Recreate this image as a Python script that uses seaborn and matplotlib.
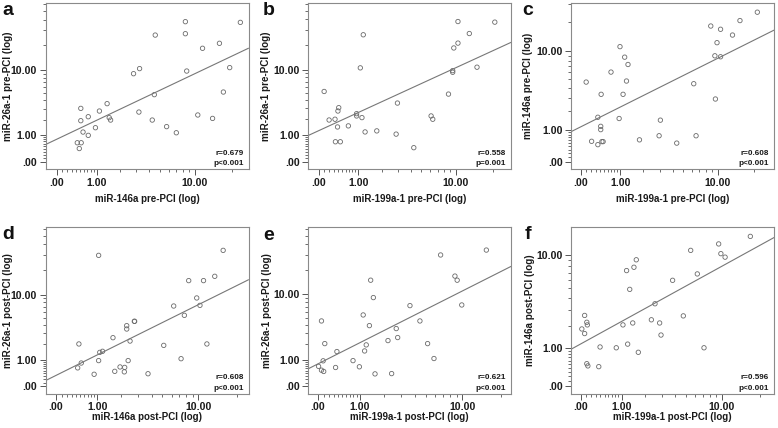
import numpy as np
import matplotlib
matplotlib.use('Agg')
import matplotlib.pyplot as plt
import seaborn as sns
from matplotlib.ticker import FixedLocator, FixedFormatter

# values (fold change, plotted on a "safe log" axis)
a_x = [0.43, 0.53, 0.48, 0.52, 0.52, 0.58, 0.73, 0.73, 0.96, 1.10, 1.40, 1.49, 1.55, 2.80, 3.22, 3.17,
       4.26, 4.45, 4.54, 5.75, 6.99, 8.35, 8.35, 8.57, 10.6, 11.6, 14.0, 15.9, 17.1, 19.2, 23.3]
a_y = [0.64, 0.64, 0.41, 3.03, 1.92, 1.17, 2.24, 0.99, 1.43, 2.76, 3.56, 2.16, 1.97, 8.98, 10.4, 2.66,
       1.97, 4.77, 26.4, 1.50, 1.13, 37.9, 27.4, 9.7, 2.39, 18.4, 2.10, 21.1, 5.18, 10.7, 37.2]

b_x = [0.10, 0.20, 0.33, 0.34, 0.39, 0.40, 0.42, 0.46, 0.68, 0.94, 0.94, 1.07, 1.13, 1.18, 1.25, 1.76,
       2.87, 2.96, 4.27, 6.13, 6.34, 8.66, 9.4, 9.4, 9.6, 10.4, 10.4, 12.9, 14.9, 20.7]
b_y = [5.22, 1.96, 2.02, 0.68, 1.47, 2.74, 3.08, 0.68, 1.54, 2.29, 2.49, 10.5, 2.15, 26.2, 1.17, 1.23,
       1.05, 3.60, 0.44, 2.29, 2.02, 4.81, 9.26, 9.7, 18.3, 20.9, 37.4, 27.1, 10.7, 36.8]

c_x = [0.10, 0.21, 0.35, 0.35, 0.42, 0.42, 0.43, 0.45, 0.48, 0.70, 0.96, 0.99, 1.10, 1.16, 1.23, 1.29,
       1.80, 2.95, 3.04, 4.38, 6.25, 6.55, 8.77, 9.5, 9.6, 9.9, 10.6, 10.6, 13.3, 15.3, 21.1]
c_y = [4.65, 0.56, 1.63, 0.45, 1.16, 1.01, 3.33, 0.55, 0.55, 6.02, 1.56, 11.2, 3.33, 8.71, 4.78, 7.28,
       0.61, 0.76, 1.47, 0.50, 4.45, 0.76, 18.1, 9.0, 2.91, 12.3, 16.8, 8.79, 14.7, 20.5, 24.8]

d_x = [0.44, 0.47, 0.53, 0.90, 1.05, 1.09, 1.19, 1.61, 1.69, 1.94, 2.16, 2.18, 2.29, 2.29, 2.37, 2.48,
       2.74, 2.76, 3.71, 5.14, 6.26, 7.22, 7.69, 8.35, 9.7, 10.3, 11.0, 11.7, 13.5, 15.7, 1.05]
d_y = [0.62, 2.03, 0.84, 0.37, 0.96, 1.43, 1.50, 2.57, 0.48, 0.66, 0.46, 0.64, 3.89, 3.48, 0.96, 2.27,
       4.48, 4.48, 0.39, 1.92, 7.18, 1.06, 5.41, 14.9, 9.1, 7.32, 14.9, 2.03, 16.8, 34.1, 29.8]

e_x = [0.01, 0.06, 0.06, 0.09, 0.10, 0.12, 0.34, 0.37, 0.79, 0.99, 1.12, 1.17, 1.23, 1.35, 1.40, 1.51,
       1.58, 2.20, 2.40, 2.67, 2.76, 3.61, 4.44, 5.18, 5.87, 6.67, 8.73, 9.1, 9.9, 15.4]
e_y = [0.68, 0.52, 4.49, 0.94, 0.47, 2.04, 0.63, 1.47, 0.95, 0.66, 5.42, 1.51, 1.94, 3.86, 14.9, 9.1,
       0.38, 2.29, 0.39, 3.50, 2.56, 7.19, 4.49, 2.04, 1.06, 29.7, 16.7, 14.9, 7.33, 33.9]

f_x = [0.02, 0.07, 0.07, 0.11, 0.12, 0.11, 0.13, 0.36, 0.39, 0.83, 1.05, 1.18, 1.22, 1.30, 1.42, 1.47,
       1.57, 1.66, 2.32, 2.53, 2.82, 2.91, 3.76, 4.71, 5.47, 6.24, 7.11, 9.4, 9.8, 10.6, 16.8]
f_y = [1.85, 2.65, 1.62, 2.22, 2.07, 0.51, 0.45, 0.43, 1.05, 1.02, 2.07, 7.29, 1.16, 4.88, 2.18, 7.81,
       9.1, 0.86, 2.37, 3.52, 2.18, 1.55, 5.94, 2.62, 11.0, 6.80, 1.02, 12.5, 10.3, 9.6, 14.5]

letters = ['a', 'b', 'c', 'd', 'e', 'f']
x_labels = ['miR-146a pre-PCI (log)', 'miR-199a-1 pre-PCI (log)', 'miR-199a-1 pre-PCI (log)',
            'miR-146a post-PCI (log)', 'miR-199a-1 post-PCI (log)', 'miR-199a-1 post-PCI (log)']
y_labels = ['miR-26a-1 pre-PCI (log)', 'miR-26a-1 pre-PCI (log)', 'miR-146a pre-PCI (log)',
            'miR-26a-1 post-PCI (log)', 'miR-26a-1 post-PCI (log)', 'miR-146a post-PCI (log)']
r_texts = ['r=0.679', 'r=0.558', 'r=0.608', 'r=0.608', 'r=0.621', 'r=0.596']
p_texts = ['p<0.001', 'p=0.001', 'p<0.001', 'p<0.001', 'p<0.001', 'p<0.001']

tick_values = [0, 1, 10]
tick_labels = ['.00', '1.00', '10.00']
minor_values = [i / 10 for i in range(1, 10)] + list(range(2, 10)) + list(range(20, 100, 10))


def safe_log(v):
    v = np.asarray(v, dtype=float)
    return np.sign(v) * np.log10(1 + np.abs(v))


def safe_exp(t):
    t = np.asarray(t, dtype=float)
    return np.sign(t) * (10 ** np.abs(t) - 1)


sns.set_style('ticks')
plt.rcParams['font.family'] = ['Liberation Sans', 'DejaVu Sans']
plt.rcParams['font.weight'] = 'bold'
plt.rcParams['axes.labelweight'] = 'bold'

W, H = 778, 428
fig = plt.figure(figsize=(W / 100, H / 100), dpi=100)

# pixel layout of the 6 boxes: left, top, width, height
boxes = [(45.5, 3, 203, 166.5), (308, 3, 203, 166.5), (571, 3, 203, 166.5),
         (45.5, 227, 203, 167), (308, 227, 203, 167), (571, 227, 203, 167)]
xlims = [(-0.215, 27.0), (-0.205, 27.8), (-0.186, 28.6), (-0.194, 24.6), (-0.180, 23.7), (-0.178, 25.6)]
ylims = [(-0.227, 62.4), (-0.225, 61.2), (-0.183, 30.5), (-0.223, 63.7), (-0.225, 62.7), (-0.153, 17.4)]
ylab_x = [8.3, 266.3, 528, 8.3, 267.3, 529.7]
letter_pos = [(2, 15), (263, 15), (522, 15), (2, 239), (263, 240), (525, 239)]

xs = [a_x, b_x, c_x, d_x, e_x, f_x]
ys = [a_y, b_y, c_y, d_y, e_y, f_y]

for i in range(6):
    left, top, w, h = boxes[i]
    ax = fig.add_axes([left / W, 1 - (top + h) / H, w / W, h / H])
    ax.set_xscale('function', functions=(safe_log, safe_exp))
    ax.set_yscale('function', functions=(safe_log, safe_exp))

    sns.scatterplot(x=xs[i], y=ys[i], ax=ax, marker='o', s=10,
                    facecolor='none', edgecolor='#6a6a6a', linewidth=0.6)

    # fit line on the log scale
    k, b0 = np.polyfit(safe_log(xs[i]), safe_log(ys[i]), 1)
    tx = safe_log(xlims[i])
    ax.plot(safe_exp(tx), safe_exp(k * tx + b0), color='#777777', lw=0.8)

    ax.set_xlim(xlims[i])
    ax.set_ylim(ylims[i])

    for axis in (ax.xaxis, ax.yaxis):
        axis.set_major_locator(FixedLocator(tick_values))
        axis.set_major_formatter(FixedFormatter(tick_labels))
        axis.set_minor_locator(FixedLocator(minor_values))
    ax.tick_params(which='major', length=4, width=0.7, color='#555555', labelsize=7.6,
                   labelcolor='#1a1a1a', pad=2)
    ax.tick_params(which='minor', length=2.2, width=0.6, color='#555555')
    for sp in ax.spines.values():
        sp.set_color('#8a8a8a')
        sp.set_linewidth(0.8)

    ax.set_xlabel(x_labels[i], fontsize=7, color='#1a1a1a')
    ax.set_ylabel(y_labels[i], fontsize=7.1, color='#1a1a1a')
    ax.xaxis.label.set_va('center')
    ax.yaxis.label.set_va('center')
    below = 29.5 if i < 3 else 22.5
    ax.xaxis.set_label_coords(0.5, -below / h)
    ax.yaxis.set_label_coords((ylab_x[i] - left) / w, 0.5)

    ax.text(0.975, 16.2 / h, r_texts[i], transform=ax.transAxes, ha='right', va='center',
            fontsize=5.9, fontweight='bold', color='#1a1a1a')
    ax.text(0.975, 6.0 / h, p_texts[i], transform=ax.transAxes, ha='right', va='center',
            fontsize=5.9, fontweight='bold', color='#1a1a1a')

    lx, ly = letter_pos[i]
    fig.text(lx / W, 1 - ly / H, letters[i], fontsize=14, fontweight='bold',
             ha='left', va='baseline', color='#111111')

fig.savefig('out.png', dpi=100)
